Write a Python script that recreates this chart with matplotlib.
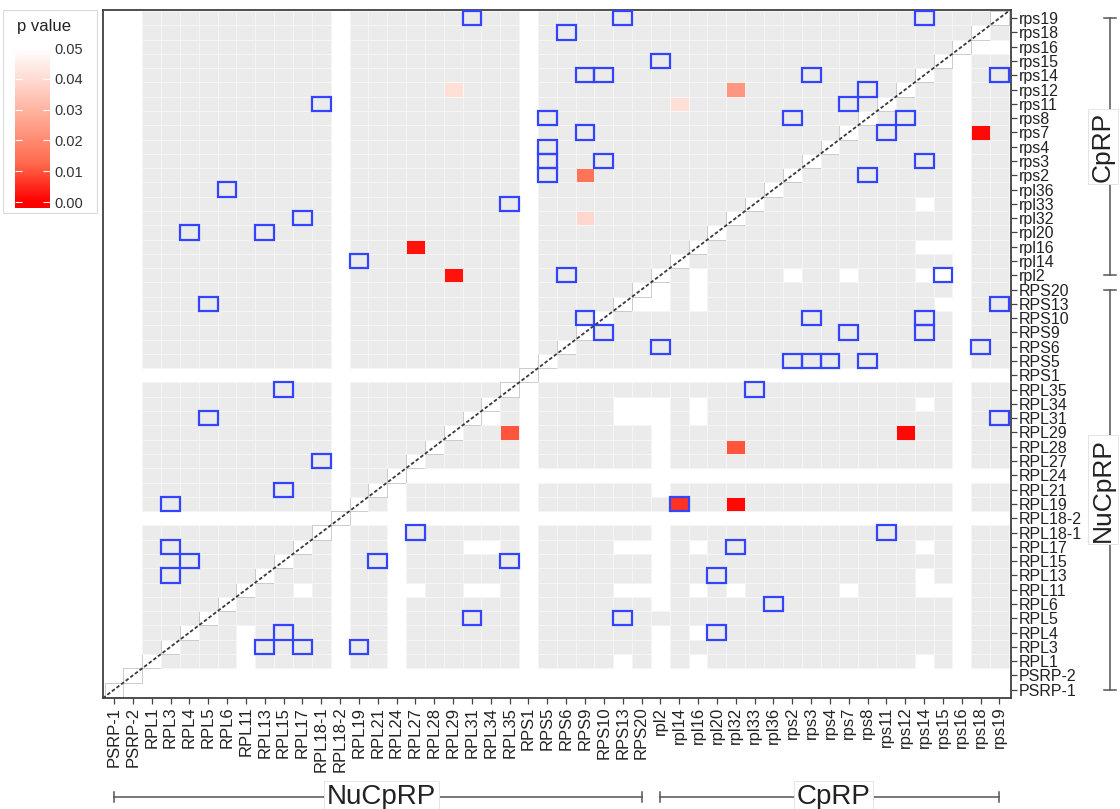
import numpy as np
import matplotlib.pyplot as plt
from matplotlib.patches import Rectangle
from matplotlib.colors import LinearSegmentedColormap, Normalize

plt.rcParams['font.family'] = ['Liberation Sans', 'DejaVu Sans']

genes = ['PSRP-1', 'PSRP-2', 'RPL1', 'RPL3', 'RPL4', 'RPL5', 'RPL6', 'RPL11', 'RPL13',
         'RPL15', 'RPL17', 'RPL18-1', 'RPL18-2', 'RPL19', 'RPL21', 'RPL24', 'RPL27',
         'RPL28', 'RPL29', 'RPL31', 'RPL34', 'RPL35', 'RPS1', 'RPS5', 'RPS6', 'RPS9',
         'RPS10', 'RPS13', 'RPS20', 'rpl2', 'rpl14', 'rpl16', 'rpl20', 'rpl32', 'rpl33',
         'rpl36', 'rps2', 'rps3', 'rps4', 'rps7', 'rps8', 'rps11', 'rps12', 'rps14',
         'rps15', 'rps16', 'rps18', 'rps19']
groups = [('NuCpRP', 'PSRP-1', 'RPS20'), ('CpRP', 'rpl2', 'rps19')]

# genes with no values at all / no values below the diagonal
na_all = ['PSRP-1', 'PSRP-2', 'RPL18-2', 'RPS1']
na_lower = ['RPL24', 'rps16']

# empty cells below the diagonal: column gene -> row genes
blank_lower = {
    'RPL11': ['RPL1', 'RPL3', 'RPL4'],
    'RPL17': ['RPL11'],
    'RPL27': ['RPL11'],
    'RPL31': ['RPL11', 'RPL17'],
    'RPL34': ['RPL11', 'RPL17', 'RPL31'],
    'RPS13': ['RPL1', 'RPL11', 'RPL17', 'RPL31', 'RPL34'],
    'RPS20': ['RPL11', 'RPL17', 'RPL31', 'RPL34', 'RPS13'],
    'rpl2': ['RPL1', 'RPL3', 'RPL4', 'RPL6', 'RPL11', 'RPL13', 'RPL15', 'RPL17',
             'RPL18-1', 'RPL21', 'RPL27', 'RPL28', 'RPL29', 'RPL31', 'RPL34',
             'RPS13', 'RPS20'],
    'rpl16': ['RPL1', 'RPL4', 'RPL11', 'RPL17', 'RPL31', 'RPL34', 'RPS13', 'RPS20', 'rpl2'],
    'rpl32': ['RPL11'],
    'rps2': ['rpl2'],
    'rps7': ['RPL11', 'rpl2'],
    'rps14': ['RPL1', 'RPL11', 'RPL13', 'RPL17', 'RPL34', 'rpl2', 'rpl16', 'rpl33'],
    'rps15': ['RPL11', 'RPS13', 'rpl2', 'rpl16'],
}

# pairs marked with a blue box (drawn on both sides of the diagonal)
boxed_pairs = [('RPL18-1', 'rps11'), ('RPL6', 'rpl36'), ('RPL17', 'rpl32'), ('RPL4', 'rpl20'),
               ('RPL13', 'rpl20'), ('RPL31', 'rps19'), ('RPS13', 'rps19'), ('RPS6', 'rps18'),
               ('rpl2', 'rps15'), ('RPS9', 'rps14'), ('RPS10', 'rps14'), ('RPS5', 'rps8'),
               ('RPS9', 'rps7'), ('RPS5', 'rps4'), ('RPS5', 'rps3'), ('RPS5', 'rps2'),
               ('RPS10', 'rps3'), ('RPL35', 'rpl33'), ('rps14', 'rps19'), ('rps3', 'rps14'),
               ('rps8', 'rps12'), ('rps7', 'rps11'), ('rps2', 'rps8'), ('RPL19', 'rpl14'),
               ('RPL5', 'RPS13'), ('RPL15', 'RPL35'), ('RPL5', 'RPL31'), ('RPL18-1', 'RPL27'),
               ('RPS6', 'rpl2'), ('RPS9', 'RPS10'), ('RPL15', 'RPL21'), ('RPL3', 'RPL19'),
               ('RPL3', 'RPL17'), ('RPL4', 'RPL15'), ('RPL3', 'RPL13')]

# significant cells: (column gene, row gene, p value)
p_cells = [('RPL29', 'rps12', 0.041), ('rpl14', 'rps11', 0.041), ('rpl32', 'rps12', 0.023),
           ('RPS9', 'rps2', 0.015), ('RPS9', 'rpl32', 0.039), ('RPL27', 'rpl16', 0.002),
           ('RPL29', 'rpl2', 0.002), ('rps18', 'rps7', 0.001), ('RPL35', 'RPL29', 0.010),
           ('rps12', 'RPL29', 0.001), ('rpl32', 'RPL28', 0.010), ('rpl14', 'RPL19', 0.006),
           ('rpl32', 'RPL19', 0.001)]

pos = {g: k for k, g in enumerate(genes)}
n = len(genes)

cmap = LinearSegmentedColormap.from_list('pval', ['#FF0000', '#FF6A4D', '#FFA08A', '#FFD2C6', '#FFFFFF'])
norm = Normalize(0, 0.05)

fig = plt.figure(figsize=(11.2, 8.09), dpi=100)
ax = fig.add_axes([102.7 / 1120, 1 - 698.3 / 809, 908.1 / 1120, 688.8 / 809])

blank = set()
for col, rows in blank_lower.items():
    for r in rows:
        blank.add((pos[col], pos[r]))

# background tiles
for i in range(n):
    for j in range(n):
        gi, gj = genes[i], genes[j]
        if i == j:
            ax.add_patch(Rectangle((i - 0.5, j - 0.5), 1, 1, facecolor='white',
                                   edgecolor='#C4C4C4', lw=0.6))
            continue
        if gi in na_all or gj in na_all:
            continue
        if i > j and (gi in na_lower or gj in na_lower or (i, j) in blank):
            continue
        ax.add_patch(Rectangle((i - 0.5, j - 0.5), 1, 1, facecolor='#EBEBEB',
                               edgecolor='#F6F6F6', lw=0.7))

for col, row, p in p_cells:
    ax.add_patch(Rectangle((pos[col] - 0.5, pos[row] - 0.5), 1, 1,
                           facecolor=cmap(norm(p)), edgecolor='#FAFAFA', lw=0.6))

for a, b in boxed_pairs:
    for i, j in [(pos[a], pos[b]), (pos[b], pos[a])]:
        ax.add_patch(Rectangle((i - 0.5, j - 0.5), 1, 1, fill=False,
                               edgecolor='#3344FF', lw=1.6, zorder=4))

ax.plot([0, 1], [0, 1], transform=ax.transAxes, color='#3A3A3A', lw=1.3,
        ls=(0, (2, 1.2)), zorder=5)

ax.set_xlim(-0.6, n - 0.4)
ax.set_ylim(-0.6, n - 0.4)
ax.set_xticks(range(n))
ax.set_xticklabels(genes, rotation=90, fontsize=12, color='#222222')
ax.yaxis.tick_right()
ax.set_yticks(range(n))
ax.set_yticklabels(genes, fontsize=11.5, color='#222222')
ax.tick_params(axis='both', length=4, width=0.9, color='#444444', pad=2)
for s in ax.spines.values():
    s.set_color('#404040')
    s.set_linewidth(1.3)

# group brackets (pixel -> data helpers)
def px2x(px):
    return -0.6 + (px - 102.7) / 18.84

def px2y(py):
    return -0.6 + (698.3 - py) / 14.29

box_style = dict(boxstyle='square,pad=0.1', fc='white', ec='#E0E0E0', lw=0.6)
yb = px2y(797)
xr = px2x(1110)
for lab, g0, g1 in groups:
    a, b = pos[g0], pos[g1]
    # bottom
    ax.plot([a, b], [yb, yb], color='#555555', lw=1.1, clip_on=False)
    for e in (a, b):
        ax.plot([e, e], [yb - 0.35, yb + 0.35], color='#555555', lw=1.1, clip_on=False)
    ax.text((a + b) / 2 + 0.2, yb, lab, fontsize=20, ha='center', va='center', color='#222222',
            bbox=box_style, clip_on=False)
    # right
    ax.plot([xr, xr], [a, b], color='#555555', lw=1.1, clip_on=False)
    for e in (a, b):
        ax.plot([xr - 0.3, xr + 0.3], [e, e], color='#555555', lw=1.1, clip_on=False)
    ax.text(px2x(1103), (a + b) / 2, lab, fontsize=19, ha='center', va='center', rotation=90,
            color='#222222', bbox=box_style, clip_on=False)

# legend: colour bar for p value
fig.patches.append(Rectangle((3 / 1120, 1 - 213 / 809), 94 / 1120, 203 / 809, fill=False,
                             edgecolor='#DADADA', lw=0.8, transform=fig.transFigure))
fig.text(17 / 1120, 1 - 26 / 809, 'p value', fontsize=12, va='center', color='#222222')
lo = -6 * 0.05 / 154
hi = 0.05 + 10 * 0.05 / 154
cax = fig.add_axes([15 / 1120, 1 - 208 / 809, 35 / 1120, 170 / 809])
grad = np.linspace(lo, hi, 256).reshape(-1, 1)
cax.imshow(grad, cmap=cmap, norm=norm, aspect='auto', origin='lower', extent=[0, 1, lo, hi])
cax.set_xlim(0, 1)
cax.set_ylim(lo, hi)
ticks = [0.0, 0.01, 0.02, 0.03, 0.04, 0.05]
cax.hlines(ticks, 0, 0.2, color='white', lw=0.8)
cax.hlines(ticks, 0.8, 1, color='white', lw=0.8)
cax.set_xticks([])
cax.yaxis.tick_right()
cax.set_yticks(ticks)
cax.set_yticklabels([f'{t:.2f}' for t in ticks], fontsize=10.5, color='#333333')
cax.tick_params(axis='y', length=0, pad=3)
for s in cax.spines.values():
    s.set_visible(False)

fig.savefig('out.png', dpi=100)
